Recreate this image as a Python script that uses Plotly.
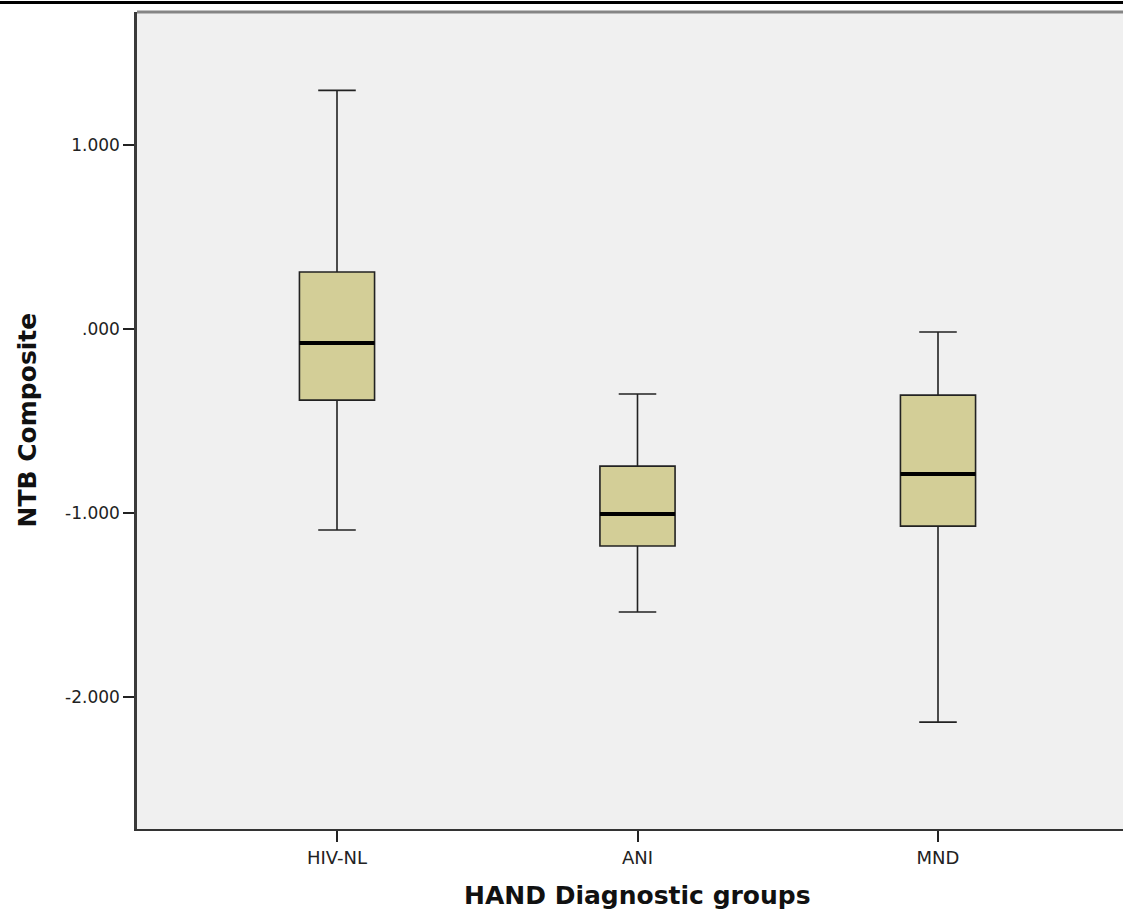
import plotly.graph_objects as go

categories = ["HIV-NL", "ANI", "MND"]
upper_whisker = [1.297, -0.353, -0.016]
q3_values = [0.310, -0.745, -0.359]
median_values = [-0.076, -1.005, -0.788]
q1_values = [-0.386, -1.179, -1.071]
lower_whisker = [-1.092, -1.538, -2.136]

y_tick_values = [1.0, 0.0, -1.0, -2.0]
y_tick_labels = ["1.000", ".000", "-1.000", "-2.000"]

W, H = 1123, 913
ML, MR, MT, MB = 137, 0, 12, 84
plot_w = W - ML - MR
plot_h = H - MT - MB
px_per_cat = 300.5
x0 = -200 / px_per_cat
x1 = x0 + plot_w / px_per_cat

fig = go.Figure()
fig.add_trace(go.Box(
    x=categories, q1=q1_values, median=median_values, q3=q3_values,
    lowerfence=lower_whisker, upperfence=upper_whisker,
    boxpoints=False, width=0.25, whiskerwidth=0.5,
    fillcolor="#d3ce97", line=dict(color="#222222", width=1.6),
    hoverinfo="skip", showlegend=False,
))
# thick median lines
fig.add_trace(go.Box(
    x=categories, q1=median_values, median=median_values, q3=median_values,
    lowerfence=median_values, upperfence=median_values,
    boxpoints=False, width=0.25, whiskerwidth=0,
    fillcolor="rgba(0,0,0,0)", line=dict(color="#000000", width=4),
    hoverinfo="skip", showlegend=False,
))

fig.update_layout(
    width=W, height=H,
    margin=dict(l=ML, r=MR, t=MT, b=MB),
    paper_bgcolor="white", plot_bgcolor="#f0f0f0",
    boxmode="overlay",
    font=dict(family="DejaVu Sans", color="#222222"),
    xaxis=dict(
        range=[x0, x1], type="category", showgrid=False, zeroline=False,
        showline=True, linecolor="#333333", linewidth=2,
        ticks="outside", ticklen=11, tickwidth=2, tickcolor="#222222",
        tickfont=dict(size=18, color="#222222"),
    ),
    yaxis=dict(
        range=[-2.717, 1.723], showgrid=False, zeroline=False,
        showline=True, linecolor="#3a3a3a", linewidth=2.5,
        ticks="outside", ticklen=11, tickwidth=2, tickcolor="#222222",
        tickvals=y_tick_values, ticktext=y_tick_labels,
        tickfont=dict(size=17, color="#222222"),
    ),
    shapes=[
        dict(type="line", xref="paper", yref="paper", x0=-ML / plot_w, x1=1,
             y0=1 + 9.5 / plot_h, y1=1 + 9.5 / plot_h, line=dict(color="black", width=3)),
        dict(type="line", xref="paper", yref="paper", x0=0, x1=1,
             y0=1, y1=1, line=dict(color="#858585", width=3)),
    ],
    annotations=[
        dict(text="<b>HAND Diagnostic groups</b>", xref="x", yref="paper",
             x=1, y=-(895 - 829) / plot_h, xanchor="center", yanchor="middle",
             showarrow=False, font=dict(size=25, color="#111111")),
        dict(text="<b>NTB Composite</b>", xref="paper", yref="paper",
             x=-(ML - 27) / plot_w, y=0.5, xanchor="center", yanchor="middle",
             textangle=-90, showarrow=False, font=dict(size=25, color="#111111")),
    ],
)

fig.write_html("out.html", config={"displayModeBar": False},
               post_script="document.body.style.margin='0';")
